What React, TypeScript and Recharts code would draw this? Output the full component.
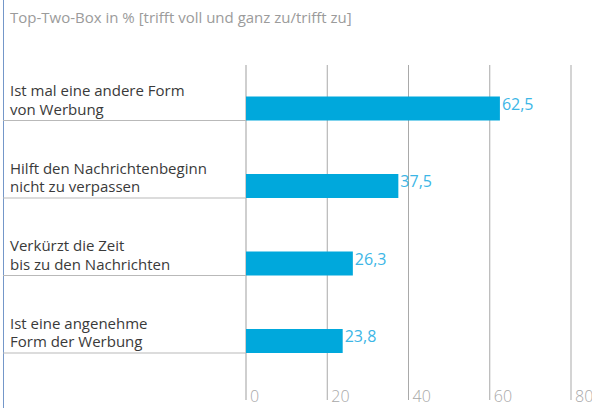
import React from 'react';
import { BarChart, Bar, XAxis, YAxis, CartesianGrid } from 'recharts';

// Aussagen (Kategorien) und Top-Two-Box-Werte in %
const statements = [
  'Ist mal eine andere Form\nvon Werbung',
  'Hilft den Nachrichtenbeginn\nnicht zu verpassen',
  'Verkürzt die Zeit\nbis zu den Nachrichten',
  'Ist eine angenehme\nForm der Werbung',
];
const topTwoBox = [62.5, 37.5, 26.3, 23.8];
const axisTicks = [0, 20, 40, 60, 80];
const title = 'Top-Two-Box in % [trifft voll und ganz zu/trifft zu]';

const W = 592;
const H = 408;
const MARGIN = { top: 43, right: 21, bottom: 8, left: 0 };
const Y_AXIS_W = 246;
const X_AXIS_H = 47;
const BAR_H = 24;
const FONT = '"Open Sans", "Liberation Sans", sans-serif';
const BLUE = '#00a8dc';
const LABEL_BLUE = '#3cb6e6';

const data = statements.map((name, i) => ({ name, value: topTwoBox[i] }));
const bandSize = (H - MARGIN.top - MARGIN.bottom - X_AXIS_H) / statements.length;

const fmt = (v: number) => v.toFixed(1).replace('.', ',');

// Kategorie-Beschriftung links, mit Trennlinie unter jedem Band
const StatementTick = (props: any) => {
  const { y, payload } = props;
  const lines = String(payload.value).split('\n');
  const bottom = y + bandSize / 2;
  const lineH = 18.5;
  return (
    <g>
      <line x1={3} x2={Y_AXIS_W} y1={bottom} y2={bottom} stroke="#b9b9b9" strokeWidth={1} />
      <text x={10} fontFamily={FONT} fontSize={15} fill="#3a3a3a" textAnchor="start">
        {lines.map((l, i) => (
          <tspan key={i} x={10} y={bottom - 6 - (lines.length - 1 - i) * lineH}>
            {l}
          </tspan>
        ))}
      </text>
    </g>
  );
};

const ValueTick = (props: any) => {
  const { x, y, payload } = props;
  return (
    <text x={x + 4} y={y + X_AXIS_H - 6} fontFamily={FONT} fontSize={16} fill="#a8a8a8" fontWeight={300}>
      {payload.value}
    </text>
  );
};

// Balken am unteren Rand des Bandes, Wert rechts daneben
const BottomBar = (props: any) => {
  const { x, width, payload, index } = props;
  const bandBottom = MARGIN.top + (index + 1) * bandSize;
  const top = bandBottom - BAR_H;
  return (
    <g>
      <rect x={x} y={top} width={width} height={BAR_H} fill={BLUE} />
      <text x={x + width + 2} y={top + 13} fontFamily={FONT} fontSize={16} fill={LABEL_BLUE}>
        {fmt(payload.value)}
      </text>
    </g>
  );
};

const GridLine = (props: any) => {
  const { x1, x2, y1, y2, index } = props;
  const first = index === 0 || x1 <= MARGIN.left + Y_AXIS_W + 0.5;
  return (
    <line
      key={props.key}
      x1={x1}
      x2={x2}
      y1={y1 + 22}
      y2={y2 + X_AXIS_H}
      stroke={first ? '#cfcfcf' : '#a9a9a9'}
      strokeWidth={first ? 2 : 1}
    />
  );
};

export default function App() {
  return (
    <div style={{ position: 'relative', width: W, height: H, background: '#fff' }}>
      <style>{'body{margin:0}'}</style>
      <div style={{ position: 'absolute', left: 3, top: 0, width: 1, height: H, background: '#7497c9' }} />
      <div
        style={{
          position: 'absolute',
          left: 10,
          top: 7,
          fontFamily: FONT,
          fontSize: 15,
          color: '#9b9b9b',
          whiteSpace: 'nowrap',
        }}
      >
        {title}
      </div>
      <BarChart
        width={W}
        height={H}
        data={data}
        layout="vertical"
        margin={MARGIN}
        barCategoryGap={0}
      >
        <CartesianGrid horizontal={false} vertical={GridLine} />
        <XAxis
          type="number"
          domain={[0, 80]}
          ticks={axisTicks}
          axisLine={false}
          tickLine={false}
          height={X_AXIS_H}
          tick={ValueTick}
          interval={0}
        />
        <YAxis
          type="category"
          dataKey="name"
          width={Y_AXIS_W}
          axisLine={false}
          tickLine={false}
          tick={StatementTick}
          interval={0}
        />
        <Bar dataKey="value" barSize={BAR_H} shape={BottomBar} isAnimationActive={false} />
      </BarChart>
    </div>
  );
}
